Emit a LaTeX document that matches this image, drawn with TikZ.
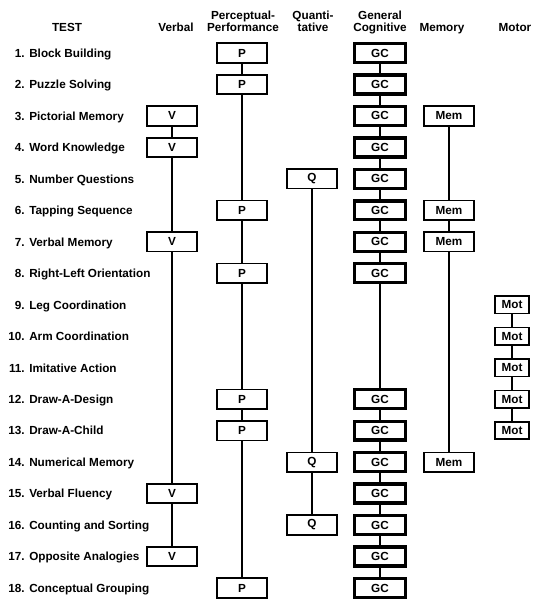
\documentclass[tikz,border=0pt]{standalone}
\usepackage{fontspec}
\setmainfont{Liberation Sans}
\begin{document}
\begin{tikzpicture}[x=0.75pt,y=-0.75pt,
  font=\fontsize{8.8}{9}\selectfont\bfseries,
  box/.style={draw,line width=1.3pt,inner sep=0pt,minimum width=37.5pt,minimum height=14.6pt},
  gcbox/.style={draw,line width=2.5pt,inner sep=0pt,minimum width=38pt,minimum height=14.2pt},
  motbox/.style={draw,line width=1.3pt,inner sep=0pt,minimum width=25.5pt,minimum height=13pt},
  conn/.style={line width=1pt},
  head/.style={anchor=north,inner sep=0pt,align=center}]
\useasboundingbox (0,0) rectangle (544,599);
% headers
\node[head] (hT) at (67,22.7) {TEST};
\node[head] (hV) at (176,22.7) {Verbal};
\node[head] (hP) at (243,10.7) {Perceptual-\\Performance};
\node[head] (hQ) at (313,10.7) {Quanti-\\tative};
\node[head] (hG) at (380,10.7) {General\\Cognitive};
\node[head] (hM) at (442,22.7) {Memory};
\node[head] (hO) at (515,22.7) {Motor};
% row labels
\foreach \i/\t in {1/Block Building,2/Puzzle Solving,3/Pictorial Memory,4/Word Knowledge,
  5/Number Questions,6/Tapping Sequence,7/Verbal Memory,8/Right-Left Orientation,
  9/Leg Coordination,10/Arm Coordination,11/Imitative Action,12/Draw-A-Design,
  13/Draw-A-Child,14/Numerical Memory,15/Verbal Fluency,16/Counting and Sorting,
  17/Opposite Analogies,18/Conceptual Grouping}{
  \node[anchor=base east,inner sep=0pt] (n\i) at (25,{57.3+(\i-1)*31.47}) {\i.};
  \node[anchor=base west,inner sep=0pt] (t\i) at (29,{57.3+(\i-1)*31.47}) {\t};
}
% Verbal
\foreach \r in {3,4,7,15,17} \node[box] (v\r) at (172,{53+(\r-1)*31.47}) {V};
\foreach \a/\b in {3/4,4/7,7/15,15/17} \draw[conn] (v\a) -- (v\b);
% Perceptual-Performance
\foreach \r in {1,2,6,8,12,13,18} \node[box] (p\r) at (242,{53+(\r-1)*31.47}) {P};
\foreach \a/\b in {1/2,2/6,6/8,8/12,12/13,13/18} \draw[conn] (p\a) -- (p\b);
% Quantitative
\foreach \r in {5,14,16} \node[box] (q\r) at (312,{53+(\r-1)*31.47}) {Q};
\foreach \a/\b in {5/14,14/16} \draw[conn] (q\a) -- (q\b);
% General Cognitive
\foreach \r in {1,2,3,4,5,6,7,8,12,13,14,15,16,17,18} \node[gcbox] (g\r) at (380,{53+(\r-1)*31.47}) {GC};
\foreach \a/\b in {1/2,2/3,3/4,4/5,5/6,6/7,7/8,8/12,12/13,13/14,14/15,15/16,16/17,17/18} \draw[conn] (g\a) -- (g\b);
% Memory
\foreach \r in {3,6,7,14} \node[box] (m\r) at (449,{53+(\r-1)*31.47}) {Mem};
\foreach \a/\b in {3/6,6/7,7/14} \draw[conn] (m\a) -- (m\b);
% Motor
\foreach \r in {9,10,11,12,13} \node[motbox] (o\r) at (512,{53+(\r-1)*31.47}) {Mot};
\foreach \a/\b in {9/10,10/11,11/12,12/13} \draw[conn] (o\a) -- (o\b);
\end{tikzpicture}
\end{document}
